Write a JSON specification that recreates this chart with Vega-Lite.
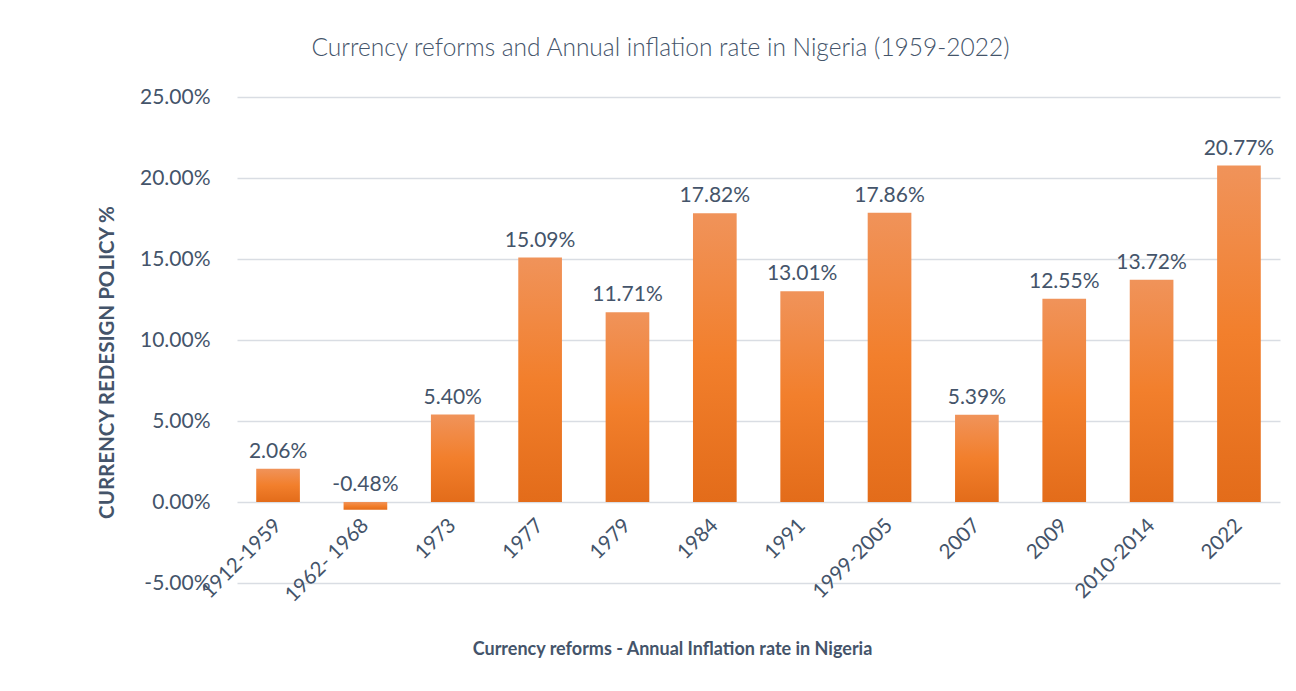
{
  "$schema": "https://vega.github.io/schema/vega-lite/v6.json",
  "width": 1043,
  "height": 486,
  "autosize": {"type": "none"},
  "padding": {"left": 237, "top": 97, "right": 16, "bottom": 108},
  "background": "white",
  "config": {
    "locale": {"number": {"decimal": ".", "thousands": ",", "grouping": [3], "currency": ["$", ""], "minus": "-"}},
    "view": {"stroke": null},
    "font": "Lato"
  },
  "title": {
    "text": "Currency reforms and Annual inflation rate in Nigeria (1959-2022)",
    "font": "Lato",
    "fontSize": 24.5,
    "fontWeight": 300,
    "color": "#44546A",
    "anchor": "middle",
    "frame": "group",
    "dx": -98,
    "offset": 25
  },
  "data": {
    "values": [
      {"period": "1912-1959", "value": 0.0206},
      {"period": "1962- 1968", "value": -0.0048},
      {"period": "1973", "value": 0.054},
      {"period": "1977", "value": 0.1509},
      {"period": "1979", "value": 0.1171},
      {"period": "1984", "value": 0.1782},
      {"period": "1991", "value": 0.1301},
      {"period": "1999-2005", "value": 0.1786},
      {"period": "2007", "value": 0.0539},
      {"period": "2009", "value": 0.1255},
      {"period": "2010-2014", "value": 0.1372},
      {"period": "2022", "value": 0.2077}
    ]
  },
  "transform": [{"calculate": "max(datum.value, 0)", "as": "labelY"}],
  "encoding": {
    "x": {
      "field": "period",
      "type": "nominal",
      "sort": null,
      "scale": {"paddingInner": 0.5, "paddingOuter": 0.22},
      "axis": {
        "offset": -81,
        "domain": false,
        "ticks": false,
        "grid": false,
        "labelAngle": -45,
        "labelAlign": "right",
        "labelBaseline": "middle",
        "labelPadding": 20,
        "labelFont": "Lato",
        "labelFontSize": 20.5,
        "labelColor": "#44546A",
        "title": "Currency reforms - Annual Inflation rate in Nigeria",
        "titleFont": "Lato",
        "titleFontSize": 18,
        "titleFontWeight": "bold",
        "titleColor": "#44546A",
        "titleX": 435,
        "titleY": 138,
        "titleAlign": "center",
        "titleBaseline": "top"
      }
    }
  },
  "layer": [
    {
      "mark": {
        "type": "bar",
        "color": {
          "gradient": "linear",
          "x1": 0, "y1": 0, "x2": 0, "y2": 1,
          "stops": [
            {"offset": 0, "color": "#F0935A"},
            {"offset": 0.5, "color": "#F27F2C"},
            {"offset": 1, "color": "#E36C1A"}
          ]
        }
      },
      "encoding": {
        "y": {
          "field": "value",
          "type": "quantitative",
          "scale": {"domain": [-0.05, 0.25], "nice": false, "zero": false},
          "axis": {
            "values": [-0.05, 0, 0.05, 0.1, 0.15, 0.2, 0.25],
            "format": ".2%",
            "domain": false,
            "ticks": false,
            "grid": true,
            "gridColor": "#D9DDE3",
            "gridWidth": 1.5,
            "labelPadding": 27,
            "labelFont": "Lato",
            "labelFontSize": 21,
            "labelColor": "#44546A",
            "title": "CURRENCY REDESIGN POLICY %",
            "titleFont": "Lato",
            "titleFontSize": 20.5,
            "titleFontWeight": "bold",
            "titleColor": "#44546A",
            "titleX": -130,
            "titleY": 265,
            "titleAlign": "center",
            "titleBaseline": "middle",
            "titleAngle": -90
          }
        }
      }
    },
    {
      "mark": {"type": "text", "baseline": "bottom", "dy": -7, "font": "Lato", "fontSize": 21, "color": "#44546A"},
      "encoding": {
        "y": {"field": "labelY", "type": "quantitative", "scale": {"domain": [-0.05, 0.25], "nice": false, "zero": false}},
        "text": {"field": "value", "type": "quantitative", "format": ".2%"}
      }
    }
  ]
}
